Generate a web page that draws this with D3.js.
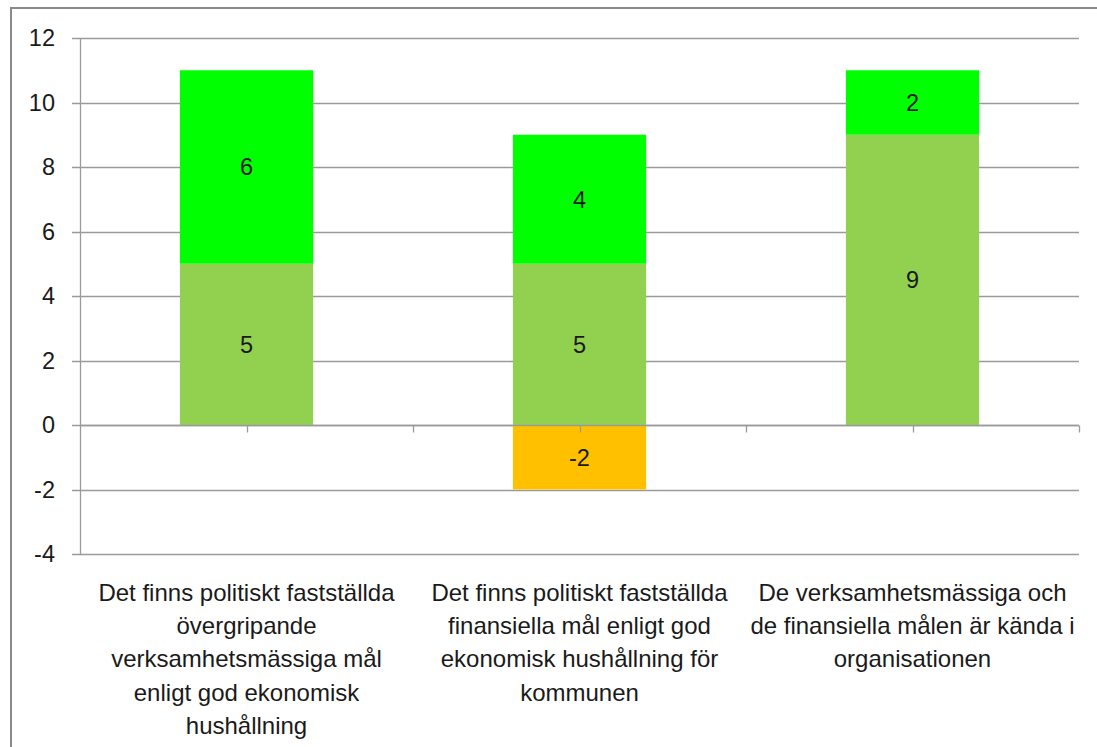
<!DOCTYPE html>
<html>
<head>
<meta charset="utf-8">
<script src="https://cdn.jsdelivr.net/npm/d3@7"></script>
<style>
  html, body { margin: 0; padding: 0; background: #fff; }
  svg { display: block; }
  text { font-family: "Liberation Sans", Arial, sans-serif; fill: #1a1a1a; }
</style>
</head>
<body>
<svg id="chart" width="1097" height="747"></svg>
<script>
// ---- data ----
const categories = [
  ["Det finns politiskt fastställda", "övergripande", "verksamhetsmässiga mål", "enligt god ekonomisk", "hushållning"],
  ["Det finns politiskt fastställda", "finansiella mål enligt god", "ekonomisk hushållning för", "kommunen"],
  ["De verksamhetsmässiga och", "de finansiella målen är kända i", "organisationen"]
];
const seriesLightGreen = [5, 5, 9];
const seriesBrightGreen = [6, 4, 2];
const seriesOrange = [0, -2, 0];
const yTicks = [-4, -2, 0, 2, 4, 6, 8, 10, 12];

const seriesList = [
  { name: "s1", values: seriesLightGreen, color: "#92D050" },
  { name: "s2", values: seriesBrightGreen, color: "#00FF00" },
  { name: "s3", values: seriesOrange, color: "#FFC000" }
];

const svg = d3.select("#chart");
const W = 1097, H = 747;

// outer border
svg.append("rect")
  .attr("x", 11).attr("y", 8)
  .attr("width", W + 10).attr("height", H + 10)
  .attr("fill", "none").attr("stroke", "#8a8a8a").attr("stroke-width", 2);

const plotLeft = 80, plotRight = 1079, plotTop = 38, plotBottom = 554;

const x = d3.scaleBand()
  .domain(d3.range(categories.length))
  .range([plotLeft, plotRight])
  .paddingInner(0.6).paddingOuter(0.3);
const xOuter = d3.scaleBand().domain(d3.range(categories.length)).range([plotLeft, plotRight]);

const y = d3.scaleLinear().domain([-4, 12]).range([plotBottom, plotTop]);

// gridlines
svg.append("g").selectAll("line").data(yTicks).join("line")
  .attr("x1", plotLeft - 8).attr("x2", plotRight)
  .attr("y1", d => Math.round(y(d)) + 0.5).attr("y2", d => Math.round(y(d)) + 0.5)
  .attr("stroke", "#9a9a9a").attr("stroke-width", 1.3);

// y axis line
svg.append("line")
  .attr("x1", plotLeft + 0.5).attr("x2", plotLeft + 0.5)
  .attr("y1", plotTop).attr("y2", plotBottom)
  .attr("stroke", "#9a9a9a").attr("stroke-width", 1.3);

// y tick labels
svg.append("g").selectAll("text").data(yTicks).join("text")
  .attr("x", 55).attr("y", d => y(d))
  .attr("dy", "0.36em")
  .attr("text-anchor", "end")
  .attr("font-size", 23.5)
  .text(d => d);

// stacked bars (positive and negative stacked separately)
const stacked = [];
categories.forEach((c, i) => {
  let pos = 0, neg = 0;
  seriesList.forEach(s => {
    const v = s.values[i];
    if (v === 0) return;
    let y0, y1;
    if (v > 0) { y0 = pos; y1 = pos + v; pos = y1; }
    else { y0 = neg; y1 = neg + v; neg = y1; }
    stacked.push({ i, v, y0, y1, color: s.color });
  });
});

const bars = svg.append("g");
bars.selectAll("rect").data(stacked).join("rect")
  .attr("x", d => x(d.i))
  .attr("width", x.bandwidth())
  .attr("y", d => y(Math.max(d.y0, d.y1)))
  .attr("height", d => Math.abs(y(d.y0) - y(d.y1)))
  .attr("fill", d => d.color);

// category axis at zero with ticks
const zeroY = Math.round(y(0)) + 0.5;
svg.append("line")
  .attr("x1", plotLeft).attr("x2", plotRight)
  .attr("y1", zeroY).attr("y2", zeroY)
  .attr("stroke", "#9a9a9a").attr("stroke-width", 1.3);
const tickXs = [];
categories.forEach((c, i) => {
  tickXs.push(xOuter(i) + xOuter.bandwidth() / 2);
  tickXs.push(xOuter(i) + xOuter.bandwidth());
});
svg.append("g").selectAll("line").data(tickXs).join("line")
  .attr("x1", d => Math.round(d) + 0.5).attr("x2", d => Math.round(d) + 0.5)
  .attr("y1", zeroY).attr("y2", zeroY + 7)
  .attr("stroke", "#9a9a9a").attr("stroke-width", 1.3);

// value labels
svg.append("g").selectAll("text").data(stacked).join("text")
  .attr("x", d => x(d.i) + x.bandwidth() / 2)
  .attr("y", d => y((d.y0 + d.y1) / 2))
  .attr("dy", "0.36em")
  .attr("text-anchor", "middle")
  .attr("font-size", 23.5)
  .text(d => d.v);

// category labels
const catG = svg.append("g");
categories.forEach((lines, i) => {
  const cx = xOuter(i) + xOuter.bandwidth() / 2;
  const t = catG.append("text")
    .attr("x", cx)
    .attr("text-anchor", "middle")
    .attr("font-size", 24);
  lines.forEach((ln, k) => {
    t.append("tspan").attr("x", cx).attr("y", 601 + k * 33.2).text(ln);
  });
});
</script>
</body>
</html>
